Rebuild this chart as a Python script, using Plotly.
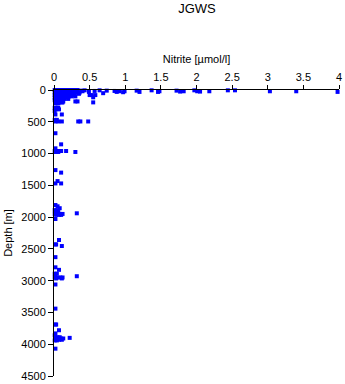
import plotly.graph_objects as go

# Depth levels [m] and nitrite readings [umol/l] observed at each level
depth_levels = [
    5, 10, 15, 20, 25, 30, 35, 50,
    0, 20, 40, 60, 80, 100, 115, 120, 140, 160, 180, 195, 210,
    280, 305, 330, 385, 470, 495, 680, 855, 918, 960, 975,
    1260, 1300, 1433, 1470, 1810, 1830, 1860, 1890, 1920, 1940, 1950, 1965, 2030,
    2360, 2430, 2455, 2630, 2790, 2830, 2890, 2920, 2930, 2950, 2965, 3060,
    3440, 3690, 3780, 3830, 3860, 3890, 3900, 3910, 3930, 3940, 4070,
]
nitrite_at_level = [
    [0.43, 0.64, 1.37, 1.97, 2.44, 2.54],
    [0.38, 0.74, 1.16, 1.72],
    [0.57, 0.85],
    [0.40, 0.92, 0.99, 1.48, 1.82, 2.01, 2.18, 3.03, 3.40],
    [1.77, 2.05],
    [0.49, 0.88, 1.20, 1.46, 3.98],
    [0.97],
    [0.69],
    [0.01, 0.03, 0.05, 0.08, 0.10, 0.12, 0.15, 0.18, 0.20, 0.23, 0.26, 0.30, 0.33],
    [0.02, 0.04, 0.06, 0.09, 0.11, 0.14, 0.17, 0.21, 0.25, 0.28],
    [0.01, 0.03, 0.07, 0.10, 0.13, 0.16, 0.19, 0.22, 0.27, 0.31, 0.36],
    [0.02, 0.05, 0.08, 0.12, 0.15, 0.20, 0.24, 0.29, 0.35],
    [0.01, 0.04, 0.07, 0.10, 0.14, 0.18, 0.22, 0.26, 0.50, 0.53, 0.58],
    [0.02, 0.05, 0.09, 0.13, 0.17, 0.21, 0.25, 0.30],
    [0.55],
    [0.01, 0.04, 0.08, 0.12, 0.16],
    [0.02, 0.06, 0.10, 0.15, 0.20],
    [0.01, 0.04, 0.08],
    [0.02, 0.05, 0.10, 0.13, 0.30, 0.33],
    [0.03, 0.07, 0.11, 0.12, 0.55],
    [0.02, 0.06],
    [0.01, 0.04, 0.06],
    [0.02, 0.07],
    [0.01],
    [0.02, 0.11],
    [0.01, 0.04],
    [0.02, 0.06, 0.11, 0.34, 0.37, 0.48],
    [0.02],
    [0.10],
    [0.02],
    [0.01, 0.04, 0.07, 0.10, 0.17],
    [0.02, 0.06, 0.30],
    [0.02],
    [0.10],
    [0.05],
    [0.02, 0.10],
    [0.02],
    [0.05],
    [0.08],
    [0.01, 0.04],
    [0.02, 0.06],
    [0.32],
    [0.01, 0.05, 0.09, 0.12],
    [0.03, 0.07, 0.10],
    [0.02],
    [0.07],
    [0.02, 0.03],
    [0.11],
    [0.02],
    [0.02],
    [0.07],
    [0.01, 0.04],
    [0.02],
    [0.32],
    [0.01, 0.05, 0.09, 0.12],
    [0.03, 0.11],
    [0.02],
    [0.02],
    [0.02, 0.03],
    [0.07],
    [0.02],
    [0.01],
    [0.02, 0.05, 0.08],
    [0.22],
    [0.03, 0.06, 0.10, 0.13],
    [0.02, 0.07, 0.11],
    [0.01, 0.04],
    [0.02],
]

x_ticks = [0, 0.5, 1, 1.5, 2, 2.5, 3, 3.5, 4]
x_tick_labels = ["0", "0.5", "1", "1.5", "2", "2.5", "3", "3.5", "4"]
y_ticks = [0, 500, 1000, 1500, 2000, 2500, 3000, 3500, 4000, 4500]

xs, ys = [], []
for d, vals in zip(depth_levels, nitrite_at_level):
    for v in vals:
        xs.append(v)
        ys.append(d)

font = "Liberation Sans, Arial, sans-serif"

fig = go.Figure(go.Scatter(
    x=xs, y=ys, mode="markers",
    marker=dict(symbol="square", size=4, color="#0000ff", line=dict(width=0)),
    cliponaxis=False, hoverinfo="skip",
))

fig.update_layout(
    width=345, height=384,
    margin=dict(l=54, r=6, t=90, b=8, autoexpand=False),
    paper_bgcolor="white", plot_bgcolor="white",
    showlegend=False,
    font=dict(family=font, size=11, color="black"),
    title=dict(text="JGWS", x=197 / 345, xanchor="center", y=1 - 8 / 384, yanchor="middle",
               font=dict(family=font, size=13, color="black")),
    xaxis=dict(
        side="top", range=[0, 4], tickvals=x_ticks, ticktext=x_tick_labels,
        automargin=False,
        showline=True, linecolor="black", linewidth=1,
        ticks="outside", ticklen=4, tickcolor="black", tickwidth=1,
        showgrid=False, zeroline=False,
        title=dict(text="Nitrite [µmol/l]", standoff=4, font=dict(family=font, size=11)),
    ),
    yaxis=dict(
        range=[4500, 0], tickvals=y_ticks,
        automargin=False,
        showline=True, linecolor="black", linewidth=1,
        ticks="outside", ticklen=5, tickcolor="black", tickwidth=1,
        showgrid=False, zeroline=False,
        title=dict(text="Depth [m]", standoff=6, font=dict(family=font, size=11)),
    ),
)

fig.write_html("out.html")
